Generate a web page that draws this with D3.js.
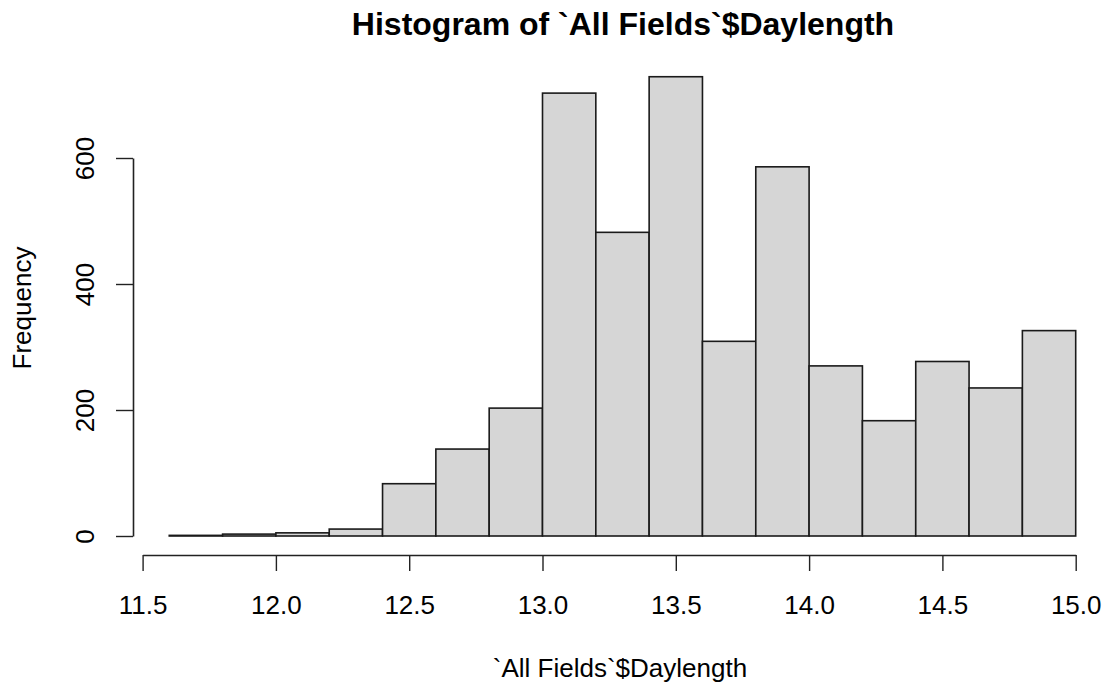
<!DOCTYPE html>
<html>
<head>
<meta charset="utf-8">
<script src="https://cdn.jsdelivr.net/npm/d3@7"></script>
<style>
    body { margin: 0; background: #fff; }
    text { font-family: "Liberation Sans", Arial, Helvetica, sans-serif; fill: #000; }
</style>
</head>
<body>
<div id="hist_div"></div>
<script>
// bin edges (left side of each bar), width 0.2
var binStarts = [11.6, 11.8, 12.0, 12.2, 12.4, 12.6, 12.8, 13.0, 13.2, 13.4, 13.6, 13.8, 14.0, 14.2, 14.4, 14.6, 14.8];
var binWidth = 0.2;
var counts = [1, 3, 5, 11, 83, 138, 203, 703, 482, 729, 309, 586, 270, 183, 277, 235, 326];
var xTicks = [11.5, 12.0, 12.5, 13.0, 13.5, 14.0, 14.5, 15.0];
var yTicks = [0, 200, 400, 600];

var titleText = "Histogram of `All Fields`$Daylength";
var xLabel = "`All Fields`$Daylength";
var yLabel = "Frequency";

var width = 1110;
var height = 688;

var svg = d3.select("#hist_div").append("svg")
    .attr("width", width)
    .attr("height", height);

var x = d3.scaleLinear()
    .domain([11.5, 15.0])
    .range([142.6, 1075.7]);

var y = d3.scaleLinear()
    .domain([0, 600])
    .range([536, 158]);

var plotLeft = 133;
var plotBottom = 555;

// bars
svg.selectAll("rect.bar")
    .data(counts)
    .enter().append("rect")
    .attr("class", "bar")
    .attr("x", function (d, i) { return x(binStarts[i]); })
    .attr("width", function (d, i) { return x(binStarts[i] + binWidth) - x(binStarts[i]); })
    .attr("y", function (d) { return y(d); })
    .attr("height", function (d) { return y(0) - y(d); })
    .attr("fill", "#d6d6d6")
    .attr("stroke", "#1a1a1a")
    .attr("stroke-width", 1.6);

// x axis
var xAxis = d3.axisBottom(x)
    .tickValues(xTicks)
    .tickSize(16)
    .tickSizeOuter(0)
    .tickFormat(d3.format(".1f"));

var gx = svg.append("g")
    .attr("transform", "translate(0," + plotBottom + ")")
    .call(xAxis);
gx.select(".domain").attr("stroke", "#222").attr("stroke-width", 1.6);
gx.selectAll(".tick line").attr("stroke", "#222").attr("stroke-width", 1.4);
gx.selectAll(".tick text")
    .attr("y", 59)
    .attr("dy", 0)
    .attr("font-size", "26px")
    .attr("font-family", "Liberation Sans, Arial, sans-serif")
    .attr("fill", "#000");

// y axis, labels turned like R does
var yAxis = d3.axisLeft(y)
    .tickValues(yTicks)
    .tickSize(17)
    .tickSizeOuter(0);

var gy = svg.append("g")
    .attr("transform", "translate(" + plotLeft + ",0)")
    .call(yAxis);
gy.select(".domain").attr("stroke", "#222").attr("stroke-width", 1.6);
gy.selectAll(".tick line").attr("stroke", "#222").attr("stroke-width", 1.4);
gy.selectAll(".tick text")
    .attr("x", 0)
    .attr("dy", 0)
    .attr("transform", "translate(-39,0) rotate(-90)")
    .attr("text-anchor", "middle")
    .attr("font-size", "26px")
    .attr("font-family", "Liberation Sans, Arial, sans-serif")
    .attr("fill", "#000");

// titles
svg.append("text")
    .attr("x", 623)
    .attr("y", 35)
    .attr("text-anchor", "middle")
    .attr("font-size", "32px")
    .attr("font-weight", "bold")
    .text(titleText);

svg.append("text")
    .attr("x", 620)
    .attr("y", 677)
    .attr("text-anchor", "middle")
    .attr("font-size", "26px")
    .text(xLabel);

svg.append("text")
    .attr("transform", "translate(31,308) rotate(-90)")
    .attr("text-anchor", "middle")
    .attr("font-size", "26px")
    .text(yLabel);
</script>
</body>
</html>
